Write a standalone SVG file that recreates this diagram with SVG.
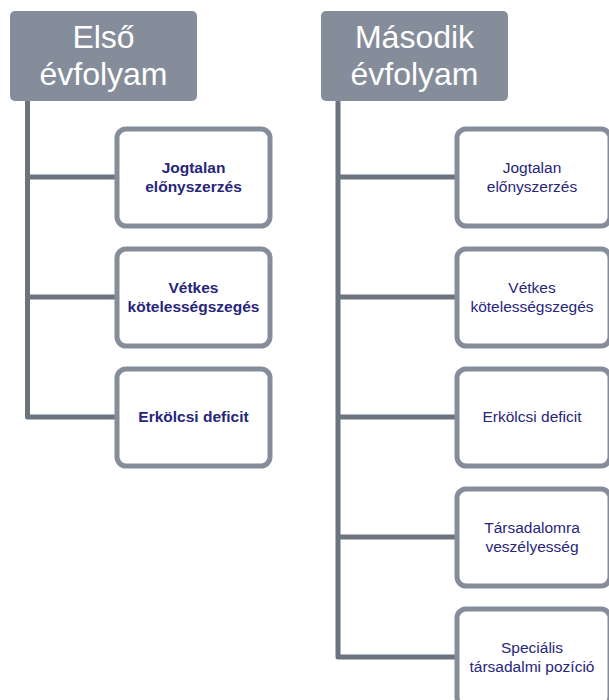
<svg xmlns="http://www.w3.org/2000/svg" width="609" height="700" viewBox="0 0 609 700">
<style>
.hdr{fill:#858d9a}
.htx{fill:#ffffff;font-family:"Liberation Sans",sans-serif;font-size:32px;text-anchor:middle}
.box{fill:#ffffff;stroke:#858d9a;stroke-width:5}
.ln{fill:none;stroke:#6b737e;stroke-width:5;stroke-linejoin:round}
.tb{fill:#27267a;font-family:"Liberation Sans",sans-serif;font-size:15.5px;font-weight:bold;text-anchor:middle}
.tr{fill:#27267a;font-family:"Liberation Sans",sans-serif;font-size:15.5px;text-anchor:middle}
</style>
<rect width="609" height="700" fill="#ffffff"/>
<g id="connectors">
<path class="ln" d="M27.5 101 V417 H116"/>
<path class="ln" d="M27.5 177 H116"/>
<path class="ln" d="M27.5 297 H116"/>
<path class="ln" d="M338 101 V657 H456"/>
<path class="ln" d="M338 177 H456"/>
<path class="ln" d="M338 297 H456"/>
<path class="ln" d="M338 417 H456"/>
<path class="ln" d="M338 537 H456"/>
</g>
<g id="h1"><rect class="hdr" x="10" y="11" width="187" height="90" rx="5"/>
<text class="htx" x="103.5" y="48">Első</text><text class="htx" x="103.5" y="85">évfolyam</text></g>
<g id="h2"><rect class="hdr" x="321" y="11" width="187" height="90" rx="5"/>
<text class="htx" x="414.5" y="48">Második</text><text class="htx" x="414.5" y="85">évfolyam</text></g>
<g id="l1"><rect class="box" x="117" y="129" width="153" height="97" rx="9"/>
<text class="tb" x="193.5" y="173">Jogtalan</text><text class="tb" x="193.5" y="192">előnyszerzés</text></g>
<g id="l2"><rect class="box" x="117" y="249" width="153" height="97" rx="9"/>
<text class="tb" x="193.5" y="293">Vétkes</text><text class="tb" x="193.5" y="312">kötelességszegés</text></g>
<g id="l3"><rect class="box" x="117" y="369" width="153" height="97" rx="9"/>
<text class="tb" x="193.5" y="422">Erkölcsi deficit</text></g>
<g id="r1"><rect class="box" x="457" y="129" width="153" height="97" rx="9"/>
<text class="tr" x="532" y="173">Jogtalan</text><text class="tr" x="532" y="192">előnyszerzés</text></g>
<g id="r2"><rect class="box" x="457" y="249" width="153" height="97" rx="9"/>
<text class="tr" x="532" y="293">Vétkes</text><text class="tr" x="532" y="312">kötelességszegés</text></g>
<g id="r3"><rect class="box" x="457" y="369" width="153" height="97" rx="9"/>
<text class="tr" x="532" y="422">Erkölcsi  deficit</text></g>
<g id="r4"><rect class="box" x="457" y="489" width="153" height="97" rx="9"/>
<text class="tr" x="532" y="533">Társadalomra</text><text class="tr" x="532" y="552">veszélyesség</text></g>
<g id="r5"><rect class="box" x="457" y="609" width="153" height="97" rx="9"/>
<text class="tr" x="532" y="653">Speciális</text><text class="tr" x="532" y="672">társadalmi pozíció</text></g>
</svg>
